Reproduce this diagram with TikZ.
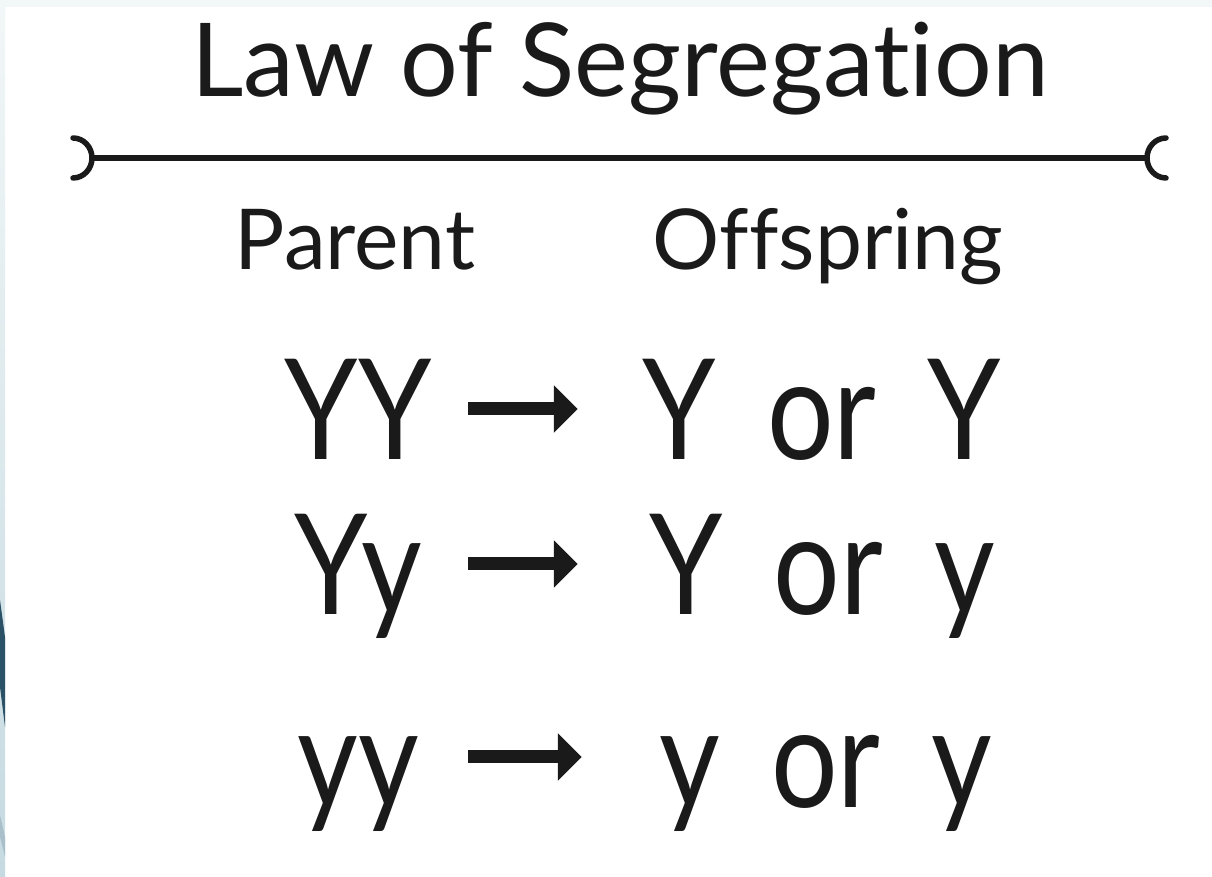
\documentclass[tikz,border=0pt]{standalone}
\usepackage{fontspec}
\setmainfont[Ligatures=NoCommon]{Lato}
\newfontfamily\handfont[FakeStretch=0.84,WordSpace=1.7,Ligatures=NoCommon]{Lato}
\usepackage{xcolor}
\definecolor{ink}{HTML}{1A1A1A}
\definecolor{edgesoft}{HTML}{F2F7F8}
\definecolor{edgeblue}{HTML}{C6DAE1}
\definecolor{stripe}{HTML}{2A5166}
\definecolor{stripesoft}{HTML}{A9C0CA}
\usetikzlibrary{arrows.meta,positioning}

\begin{document}
\begin{tikzpicture}[x=1pt,y=1pt,
  title/.style={text=ink,font=\fontsize{102}{108}\selectfont,anchor=base,inner sep=0pt},
  head/.style={text=ink,font=\fontsize{84}{90}\selectfont,anchor=base,inner sep=0pt},
  gene/.style={text=ink,font=\handfont\fontsize{140}{150}\selectfont,anchor=base,inner sep=0pt,
    text height=102pt,text depth=0pt,minimum width=220pt},
  kids/.style={gene,minimum width=488pt},
  rule/.style={ink,line width=5.5pt,line cap=round},
  pass/.style={-{Triangle[length=24pt,width=46pt]},line width=13pt,ink}]
  \useasboundingbox (0,0) rectangle (1212,877);
  % slide background
  \fill[white] (0,0) rectangle (1212,877);
  \fill[edgesoft] (0,870) rectangle (1212,877);
  \shade[top color=edgesoft,bottom color=edgeblue] (0,0) rectangle (5,877);
  \fill[stripe] (0,277) -- (5,240) -- (5,150) -- (0,190) -- cycle;
  \fill[stripesoft] (0,62) -- (5,40) -- (5,20) -- (0,40) -- cycle;
  % title and rule
  \node[title] (law) at (620,780) {Law of Segregation};
  \coordinate (rl) at (92,719);
  \coordinate (rr) at (1147,719);
  \draw[rule] (rl) -- (rr);
  \draw[rule] ([xshift=-19pt,yshift=20pt]rl) arc[start angle=90,end angle=-90,x radius=19pt,y radius=20pt];
  \draw[rule] ([xshift=19pt,yshift=20pt]rr) arc[start angle=90,end angle=270,x radius=19pt,y radius=20pt];
  \node[head] (parent) at (355,607) {Parent};
  \node[head] (offspring) at (828,607) {Offspring};
  % crosses
  \node[gene] (p1) at (358,417) {YY};
  \node[kids] (o1) at (822,417) {Y or Y};
  \node[gene] (p2) at (358,262) {Yy};
  \node[kids] (o2) at (822,262) {Y or y};
  \node[gene] (p3) at (358,69) {yy};
  \node[kids] (o3) at (826,69) {y or y};
  \draw[pass] (p1) -- (o1);
  \draw[pass] (p2) -- (o2);
  \draw[pass] (p3) -- (o3);
\end{tikzpicture}
\end{document}
